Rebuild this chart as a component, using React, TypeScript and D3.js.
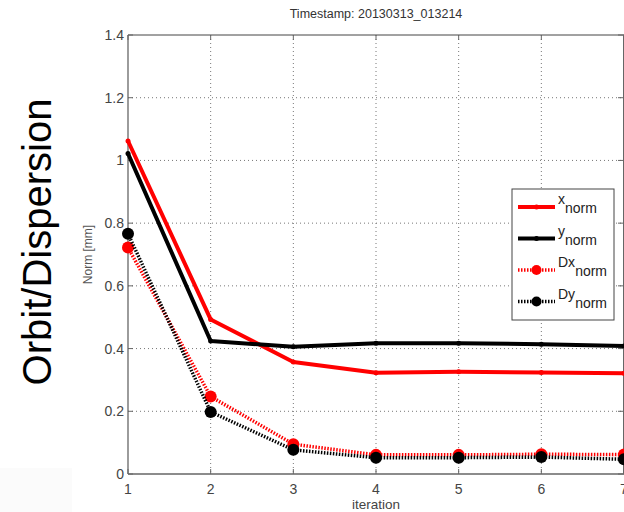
import React from "react";
import * as d3 from "d3";

const iterations = [1, 2, 3, 4, 5, 6, 7];
const xNorm = [1.062, 0.493, 0.357, 0.323, 0.326, 0.324, 0.321];
const yNorm = [1.022, 0.424, 0.406, 0.417, 0.417, 0.414, 0.408];
const dxNorm = [0.722, 0.247, 0.095, 0.061, 0.061, 0.063, 0.062];
const dyNorm = [0.766, 0.198, 0.077, 0.052, 0.052, 0.054, 0.047];
const yTicks = [0, 0.2, 0.4, 0.6, 0.8, 1, 1.2, 1.4];
const xTicks = [1, 2, 3, 4, 5, 6, 7];

const series = [
  { key: "x", sym: "x", values: xNorm, color: "#ff0000", dotted: false },
  { key: "y", sym: "y", values: yNorm, color: "#000000", dotted: false },
  { key: "Dx", sym: "Dx", values: dxNorm, color: "#ff0000", dotted: true },
  { key: "Dy", sym: "Dy", values: dyNorm, color: "#000000", dotted: true },
];

const W = 624;
const H = 512;
const L = 128, R = 624, T = 35, B = 474;

export default function App() {
  const x = d3.scaleLinear().domain([1, 7]).range([L, R]);
  const y = d3.scaleLinear().domain([0, 1.4]).range([B, T]);
  const line = d3
    .line<number>()
    .x((_, i) => x(iterations[i]))
    .y((d) => y(d));
  const font = "Liberation Sans, Arial, sans-serif";
  const legendX = 512, legendY = 189, legendW = 102, legendH = 131;
  return (
    <svg
      width={W}
      height={H}
      style={{ position: "absolute", left: 0, top: 0, background: "#fff" }}
      fontFamily={font}
    >
      <rect x={0} y={0} width={W} height={H} fill="#fff" />
      <rect x={0} y={468} width={72} height={44} fill="#fbfbfb" />
      {/* grid */}
      {yTicks.slice(1, -1).map((t) => (
        <line key={"gy" + t} x1={L} x2={R} y1={y(t)} y2={y(t)} stroke="#777" strokeWidth={1} strokeDasharray="1,3" />
      ))}
      {xTicks.slice(1, -1).map((t) => (
        <line key={"gx" + t} x1={x(t)} x2={x(t)} y1={T} y2={B} stroke="#777" strokeWidth={1} strokeDasharray="1,3" />
      ))}
      {/* axes box */}
      <line x1={L} x2={R} y1={T} y2={T} stroke="#444" strokeWidth={1} />
      <line x1={L} x2={L} y1={T} y2={B} stroke="#666" strokeWidth={1.3} />
      <line x1={L} x2={R} y1={B} y2={B} stroke="#666" strokeWidth={1.3} />
      <line x1={R - 0.5} x2={R - 0.5} y1={T} y2={B} stroke="#666" strokeWidth={1} />
      {yTicks.map((t) => (
        <g key={"ty" + t}>
          <line x1={L} x2={L + 5} y1={y(t)} y2={y(t)} stroke="#666" />
          <line x1={R - 6} x2={R} y1={y(t)} y2={y(t)} stroke="#666" />
          <text x={L - 4} y={y(t) + 5} textAnchor="end" fontSize={14} fill="#444">
            {t === 0 ? "0" : t === 1 ? "1" : t.toFixed(1)}
          </text>
        </g>
      ))}
      {xTicks.map((t) => (
        <g key={"tx" + t}>
          <line x1={x(t)} x2={x(t)} y1={T} y2={T + 5} stroke="#666" />
          <line x1={x(t)} x2={x(t)} y1={B} y2={B - 5} stroke="#666" />
          <text x={x(t)} y={B + 20} textAnchor="middle" fontSize={14} fill="#444">
            {t}
          </text>
        </g>
      ))}
      <text x={(L + R) / 2} y={B + 35} textAnchor="middle" fontSize={13.5} fill="#444">
        iteration
      </text>
      <text
        transform={`translate(${92},${(T + B) / 2}) rotate(-90)`}
        textAnchor="middle"
        fontSize={12}
        fill="#555"
      >
        Norm [mm]
      </text>
      <text x={(L + R) / 2} y={18} textAnchor="middle" fontSize={12.5} fill="#333">
        Timestamp: 20130313_013214
      </text>
      <text
        transform={`translate(${51},${242}) rotate(-90)`}
        textAnchor="middle"
        fontSize={40}
        fill="#000"
      >
        Orbit/Dispersion
      </text>
      {/* series */}
      {series.map((s) => (
        <g key={s.key}>
          <path
            d={line(s.values) || ""}
            fill="none"
            stroke={s.color}
            strokeWidth={s.dotted ? 3.5 : 4}
            strokeDasharray={s.dotted ? "1.5,1.5" : undefined}
            strokeLinejoin="round"
          />
          {s.values.map((v, i) => (
            <circle
              key={i}
              cx={x(iterations[i])}
              cy={y(v)}
              r={s.dotted ? 6 : 2.5}
              fill={s.color}
            />
          ))}
        </g>
      ))}
      {/* legend */}
      <rect x={legendX} y={legendY} width={legendW} height={legendH} fill="#fff" stroke="#444" strokeWidth={1} />
      {series.map((s, i) => {
        const ly = legendY + 18 + i * 31.5;
        return (
          <g key={"lg" + s.key}>
            <line
              x1={legendX + 6}
              x2={legendX + 43}
              y1={ly}
              y2={ly}
              stroke={s.color}
              strokeWidth={s.dotted ? 3.5 : 4}
              strokeDasharray={s.dotted ? "1.5,1.5" : undefined}
            />
            <circle cx={legendX + 24.5} cy={ly} r={s.dotted ? 5 : 2.5} fill={s.color} />
            <text x={legendX + 46} y={ly - 3} fontSize={14} fill="#222">
              {s.sym}
              <tspan dy={9} fontSize={14}>norm</tspan>
            </text>
          </g>
        );
      })}
    </svg>
  );
}
